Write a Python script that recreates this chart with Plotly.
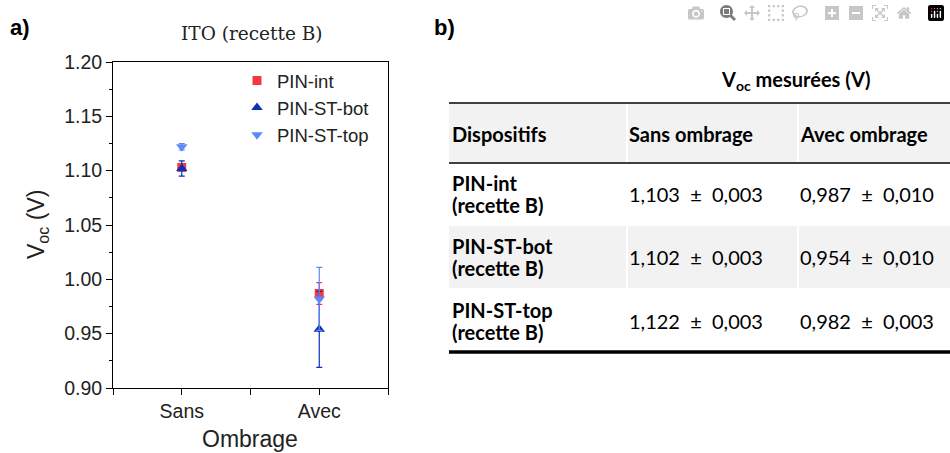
import plotly.graph_objects as go

W, H = 950, 453

# ---------------- data ----------------
categories = ["Sans", "Avec"]
series_names = ["PIN-int", "PIN-ST-bot", "PIN-ST-top"]
pin_int = [1.103, 0.987]
pin_int_err = [0.003, 0.010]
pin_st_bot = [1.102, 0.954]
pin_st_bot_err = [0.007, 0.035]
pin_st_top = [1.122, 0.982]
pin_st_top_err = [0.003, 0.029]

y_tick_vals = [0.90, 0.95, 1.00, 1.05, 1.10, 1.15, 1.20]

table_devices = ["PIN-int", "PIN-ST-bot", "PIN-ST-top"]
table_recipe = "(recette B)"
table_sans = [1.103, 1.102, 1.122]
table_sans_err = [0.003, 0.003, 0.003]
table_avec = [0.987, 0.954, 0.982]
table_avec_err = [0.010, 0.010, 0.003]
table_headers = ["Dispositifs", "Sans ombrage", "Avec ombrage"]

# ---------------- helpers ----------------
def px(x):
    return x / W

def py(y):
    return 1 - y / H

colors = ["#f2393f", "#0b2fb8", "#5c89f5"]
symbols = ["square", "triangle-up", "triangle-down"]
msizes = [9, 10, 10]
values = [pin_int, pin_st_bot, pin_st_top]
errors = [pin_int_err, pin_st_bot_err, pin_st_top_err]
xpos = [i + 1 for i in range(len(categories))]
x_between = [0.5] + [i + 1.5 for i in range(len(categories))]

fig = go.Figure()
for name, c, s, ms, v, e in zip(series_names, colors, symbols, msizes, values, errors):
    fig.add_trace(go.Scatter(
        x=xpos, y=v, mode="markers", name=name,
        marker=dict(color=c, symbol=s, size=ms, line=dict(width=0)),
        error_y=dict(type="data", array=e, visible=True, color=c, thickness=1.2, width=3),
    ))

axis_font = dict(family="Liberation Sans, Arial", size=19.5, color="#222222")
fig.update_layout(
    width=W, height=H, autosize=False,
    margin=dict(l=0, r=0, t=0, b=0, pad=0, autoexpand=False),
    paper_bgcolor="white", plot_bgcolor="white",
    showlegend=True,
    legend=dict(x=px(237), y=py(62), xanchor="left", yanchor="top",
                font=dict(family="Liberation Sans, Arial", size=18.5, color="#222222"),
                bgcolor="rgba(0,0,0,0)", tracegroupgap=0, itemwidth=30),
    xaxis=dict(domain=[px(113), px(388)], range=[0.5, 2.5],
               tickvals=xpos, ticktext=categories,
               ticks="outside", ticklen=6, tickcolor="black",
               minor=dict(tickvals=x_between, ticks="outside", ticklen=6,
                          tickcolor="black", showgrid=False),
               showline=True, linecolor="black", linewidth=1, mirror=True,
               showgrid=False, zeroline=False, tickfont=axis_font, automargin=False),
    yaxis=dict(domain=[py(388), py(62)], range=[0.9, 1.2],
               tickvals=y_tick_vals, ticktext=[f"{v:.2f}" for v in y_tick_vals],
               ticks="outside", ticklen=6, tickcolor="black",
               minor=dict(dtick=0.025, ticks="outside", ticklen=3, tickcolor="black", showgrid=False),
               showline=True, linecolor="black", linewidth=1, mirror=True,
               showgrid=False, zeroline=False, tickfont=axis_font, automargin=False),
)

ann = []
def add_text(text, x, y, size, family, xanchor="left", color="black", **kw):
    ann.append(dict(text=text, x=px(x), y=py(y), xref="paper", yref="paper",
                    xanchor=xanchor, yanchor="middle", showarrow=False,
                    font=dict(family=family, size=size, color=color), **kw))

add_text("<b>a)</b>", 8, 28, 22, "Liberation Sans, Arial")
add_text("<b>b)</b>", 432, 28, 22, "Liberation Sans, Arial")
add_text("ITO (recette B)", 252, 34, 18.5, "DejaVu Serif, Liberation Serif", xanchor="center", color="#222222")
add_text("V<sub>oc</sub> (V)", 37, 225, 23, "Liberation Sans, Arial", xanchor="center",
         color="#222222", textangle=-90)
add_text("Ombrage", 250, 439, 23, "Liberation Sans, Arial", xanchor="center", color="#222222")

# ---------------- table ----------------
tfont = "Lato, Open Sans, sans-serif"
tsize = 20
col_x = [449, 626, 797, 950]
gap = 2
shapes = []
header_top, header_bot = 103, 163
row_bounds = [(163, 225), (225, 289), (289, 352)]
for ci in range(3):
    x0 = col_x[ci] + (gap if ci > 0 else 0)
    x1 = col_x[ci + 1]
    shapes.append(dict(type="rect", xref="paper", yref="paper",
                       x0=px(x0), x1=px(x1), y0=py(header_bot), y1=py(header_top),
                       fillcolor="#f2f2f2", line=dict(width=0), layer="below"))
    r0, r1 = row_bounds[1]
    shapes.append(dict(type="rect", xref="paper", yref="paper",
                       x0=px(x0), x1=px(x1), y0=py(r1 - 1), y1=py(r0 + 1),
                       fillcolor="#f2f2f2", line=dict(width=0), layer="below"))
shapes.append(dict(type="line", xref="paper", yref="paper",
                   x0=px(449), x1=px(950), y0=py(header_top), y1=py(header_top),
                   line=dict(color="#404040", width=2)))
shapes.append(dict(type="line", xref="paper", yref="paper",
                   x0=px(449), x1=px(950), y0=py(header_bot), y1=py(header_bot),
                   line=dict(color="#404040", width=2)))
shapes.append(dict(type="line", xref="paper", yref="paper",
                   x0=px(449), x1=px(950), y0=py(352), y1=py(352),
                   line=dict(color="black", width=3.5)))

add_text("<b>V<sub>oc</sub> mesurées (V)</b>", 795, 80, tsize, tfont, xanchor="center")
for ci, h in enumerate(table_headers):
    add_text(f"<b>{h}</b>", col_x[ci] + 1, 134, tsize, tfont)

def fmt(v, e):
    return f"{v:.3f}".replace(".", ",") + "\u00a0 ±\u00a0 " + f"{e:.3f}".replace(".", ",")

for ri, dev in enumerate(table_devices):
    r0, r1 = row_bounds[ri]
    mid = (r0 + r1) / 2
    add_text(f"<b>{dev}</b>", col_x[0] + 1, mid - 11, tsize, tfont)
    add_text(f"<b>{table_recipe}</b>", col_x[0] + 1, mid + 11, tsize, tfont)
    add_text(fmt(table_sans[ri], table_sans_err[ri]), col_x[1] + 1, mid, tsize, tfont)
    add_text(fmt(table_avec[ri], table_avec_err[ri]), col_x[2] + 1, mid, tsize, tfont)

fig.update_layout(annotations=ann, shapes=shapes)
fig.write_html("out.html", post_script="document.body.style.margin='0';")
